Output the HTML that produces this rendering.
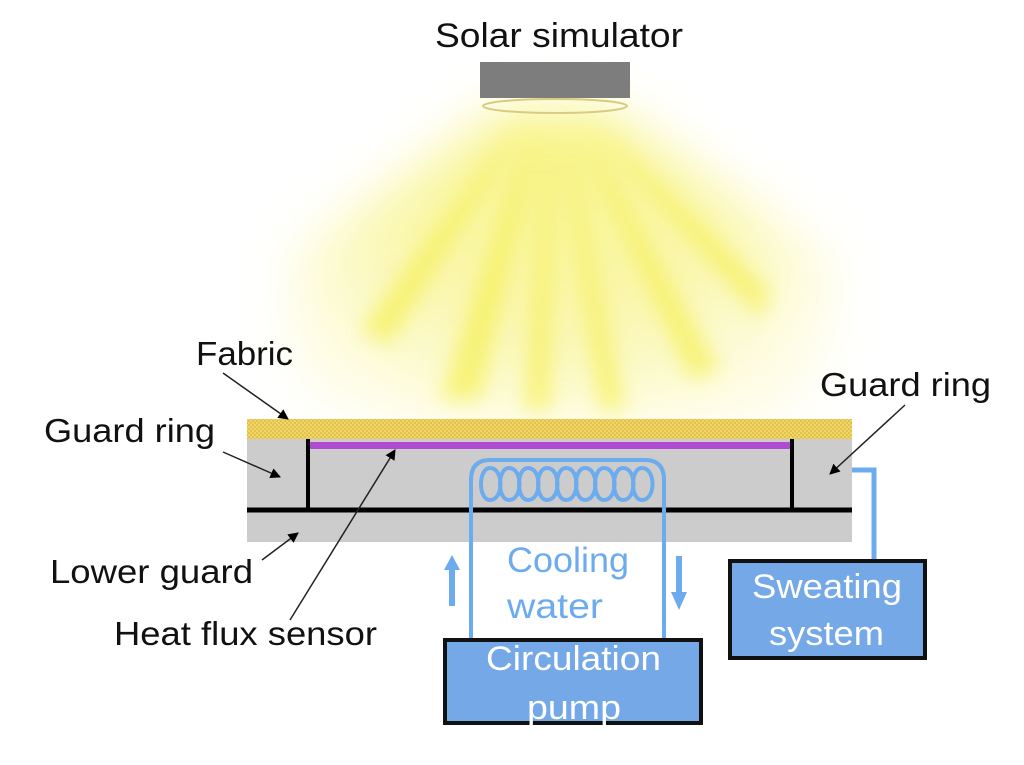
<!DOCTYPE html>
<html><head><style>
body{margin:0;background:#fff;}
svg text{font-family:"Liberation Sans",sans-serif;}
</style></head><body>
<svg width="1024" height="760" viewBox="0 0 1024 760" xmlns="http://www.w3.org/2000/svg">
<defs>
<filter id="b1" x="-50%" y="-50%" width="200%" height="200%"><feGaussianBlur stdDeviation="25"/></filter>
<filter id="b2" x="-50%" y="-50%" width="200%" height="200%"><feGaussianBlur stdDeviation="10"/></filter>
<radialGradient id="rg" cx="555" cy="130" r="320" gradientUnits="userSpaceOnUse">
<stop offset="0" stop-color="#f6f270"/><stop offset="0.6" stop-color="#f9f59a"/><stop offset="1" stop-color="#fefce0"/></radialGradient>
<pattern id="fab" width="4" height="4" patternUnits="userSpaceOnUse"><rect width="4" height="4" fill="#f0d66a"/><rect width="2" height="2" fill="#e2c24a"/><rect x="2" y="2" width="2" height="2" fill="#e2c24a"/></pattern>
<marker id="ah" viewBox="0 0 10 10" refX="9" refY="5" markerWidth="7" markerHeight="7" orient="auto"><path d="M0,0L10,5L0,10z" fill="#000"/></marker>
</defs>
<path d="M500,110 L300,250 Q270,360 330,400 L430,425 L760,425 Q840,380 830,260 L610,110 Z" fill="url(#rg)" opacity="0.8" filter="url(#b1)"/>
<g filter="url(#b2)" fill="#f4ee40" opacity="0.6">
<path d="M540,110 L440,400 L480,400 Z"/>
<path d="M550,110 L525,410 L550,410 Z"/>
<path d="M560,110 L600,410 L625,410 Z"/>
<path d="M570,110 L690,380 L720,370 Z"/>
<path d="M530,110 L360,330 L390,345 Z"/>
<path d="M580,110 L770,290 L760,320 Z"/>
</g>
<text x="435" y="47" font-size="34" textLength="248" lengthAdjust="spacingAndGlyphs" fill="#111">Solar simulator</text>
<rect x="480" y="62" width="150" height="36" fill="#7d7d7d"/>
<ellipse cx="555" cy="106" rx="72" ry="7" fill="none" stroke="#d8cc80" stroke-width="2"/>
<rect x="247" y="419" width="605" height="20" fill="url(#fab)"/>
<rect x="247" y="439" width="605" height="103" fill="#cccccc"/>
<rect x="309" y="442" width="482" height="7" fill="#b04ad0"/>
<line x1="247" y1="510" x2="852" y2="510" stroke="#000" stroke-width="5"/>
<line x1="308" y1="439" x2="308" y2="510" stroke="#000" stroke-width="4"/>
<line x1="792" y1="439" x2="792" y2="510" stroke="#000" stroke-width="4"/>
<g fill="none" stroke="#6cacee" stroke-width="4">
<path d="M471,640 L471,480 Q471,460 490,460 L645,460 Q664,460 664,480 L664,640"/>
<path d="M490,468 c-12,0 -12,32 0,32 c14,0 14,-32 0,-32 M509,468 c-12,0 -12,32 0,32 c14,0 14,-32 0,-32 M528,468 c-12,0 -12,32 0,32 c14,0 14,-32 0,-32 M547,468 c-12,0 -12,32 0,32 c14,0 14,-32 0,-32 M566,468 c-12,0 -12,32 0,32 c14,0 14,-32 0,-32 M585,468 c-12,0 -12,32 0,32 c14,0 14,-32 0,-32 M604,468 c-12,0 -12,32 0,32 c14,0 14,-32 0,-32 M623,468 c-12,0 -12,32 0,32 c14,0 14,-32 0,-32 M642,468 c-12,0 -12,32 0,32 c14,0 14,-32 0,-32"/>
<path d="M852,470 L874,470 L874,560" stroke-width="5"/>
</g>
<path d="M449,606 L449,570 L444,570 L452,555 L460,570 L455,570 L455,606 Z" fill="#6cacee"/>
<path d="M676,556 L676,592 L671,592 L679,610 L687,592 L682,592 L682,556 Z" fill="#6cacee"/>
<text x="507" y="572" font-size="35" textLength="122" lengthAdjust="spacingAndGlyphs" fill="#6cacee">Cooling</text>
<text x="507" y="618" font-size="35" textLength="96" lengthAdjust="spacingAndGlyphs" fill="#6cacee">water</text>
<rect x="445" y="640" width="256" height="83" fill="#74a8e6" stroke="#111" stroke-width="4"/>
<text x="486" y="670" font-size="34" textLength="175" lengthAdjust="spacingAndGlyphs" fill="#fff">Circulation</text>
<text x="527" y="719" font-size="34" textLength="94" lengthAdjust="spacingAndGlyphs" fill="#fff">pump</text>
<rect x="730" y="561" width="195" height="97" fill="#74a8e6" stroke="#111" stroke-width="4"/>
<text x="752" y="598" font-size="34" textLength="150" lengthAdjust="spacingAndGlyphs" fill="#fff">Sweating</text>
<text x="769" y="645" font-size="34" textLength="115" lengthAdjust="spacingAndGlyphs" fill="#fff">system</text>
<g font-size="33" fill="#111">
<text x="196" y="365" textLength="97" lengthAdjust="spacingAndGlyphs">Fabric</text>
<text x="44" y="442" textLength="171" lengthAdjust="spacingAndGlyphs">Guard ring</text>
<text x="820" y="396" textLength="171" lengthAdjust="spacingAndGlyphs">Guard ring</text>
<text x="50" y="583" textLength="203" lengthAdjust="spacingAndGlyphs">Lower guard</text>
<text x="114" y="645" textLength="263" lengthAdjust="spacingAndGlyphs">Heat flux sensor</text>
</g>
<g stroke="#222" stroke-width="1.5" marker-end="url(#ah)">
<line x1="223" y1="373" x2="288" y2="419"/>
<line x1="223" y1="452" x2="280" y2="477"/>
<line x1="262" y1="560" x2="298" y2="533"/>
<line x1="290" y1="620" x2="395" y2="450"/>
<line x1="905" y1="405" x2="830" y2="474"/>
</g>
</svg>
</body></html>
